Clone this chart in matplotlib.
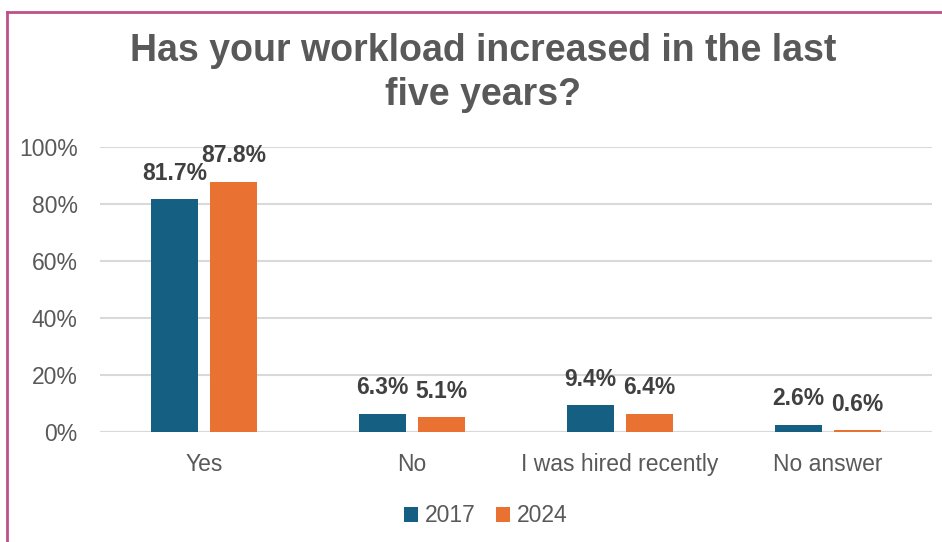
import numpy as np
import matplotlib
matplotlib.use('Agg')
import matplotlib.pyplot as plt
from matplotlib.lines import Line2D

plt.rcParams['font.family'] = ['Liberation Sans', 'DejaVu Sans']

categories = ['Yes', 'No', 'I was hired recently', 'No answer']
years = ['2017', '2024']
values_2017 = [81.7, 6.3, 9.4, 2.6]
values_2024 = [87.8, 5.1, 6.4, 0.6]
yticks = [0, 20, 40, 60, 80, 100]

colors = {'2017': '#156082', '2024': '#E97132'}

W, H = 942, 542
fig = plt.figure(figsize=(W / 100, H / 100), dpi=100)
fig.patch.set_facecolor('white')

# plot area in pixel terms: x 100..932, y 147..432 (from top)
ax = fig.add_axes([100 / W, 1 - 432 / H, 832 / W, 285 / H])

x = np.arange(len(categories))
width = 0.226
offset = 0.142
bars_a = ax.bar(x - offset, values_2017, width, color=colors['2017'], label='2017', zorder=3)
bars_b = ax.bar(x + offset, values_2024, width, color=colors['2024'], label='2024', zorder=3)

for bars, vals in [(bars_a, values_2017), (bars_b, values_2024)]:
    for b, v in zip(bars, vals):
        ax.annotate('%.1f%%' % v, (b.get_x() + b.get_width() / 2, v),
                    xytext=(0, 10.5), textcoords='offset points',
                    ha='center', va='bottom', fontsize=16.5, fontweight='bold',
                    color='#404040', zorder=4)

ax.set_xlim(-0.5, len(categories) - 0.5)
ax.set_ylim(0, 100)
ax.set_yticks(yticks)
ax.set_yticklabels(['%d%%' % t for t in yticks])
ax.set_xticks(x)
ax.set_xticklabels(categories)
ax.tick_params(axis='both', length=0, labelsize=16.5, labelcolor='#595959')
ax.tick_params(axis='y', pad=16)
ax.tick_params(axis='x', pad=15)
ax.grid(axis='y', color='#D9D9D9', linewidth=1.5, zorder=0)
for s in ax.spines.values():
    s.set_visible(False)
ax.axhline(0, color='#D9D9D9', linewidth=1.5, zorder=2)

fig.text(483 / W, 1 - 73 / H, 'Has your workload increased in the last\nfive years?',
         ha='center', va='center', fontsize=27, fontweight='bold',
         color='#595959', linespacing=1.27)

leg = fig.legend(handles=[bars_a, bars_b], labels=years, loc='center',
                 bbox_to_anchor=(486 / W, 1 - 516 / H), ncol=2, frameon=False,
                 fontsize=16.5, handlelength=0.6, handleheight=0.6,
                 handletextpad=0.3, columnspacing=0.9)
for t in leg.get_texts():
    t.set_color('#595959')

# outer frame on top and left
border = '#C0508A'
fig.add_artist(Line2D([7 / W, 7 / W], [0, 1 - 12 / H], transform=fig.transFigure,
                      color=border, linewidth=2))
fig.add_artist(Line2D([7 / W, 1], [1 - 12 / H, 1 - 12 / H], transform=fig.transFigure,
                      color=border, linewidth=2))

fig.savefig('out.png', dpi=100)
